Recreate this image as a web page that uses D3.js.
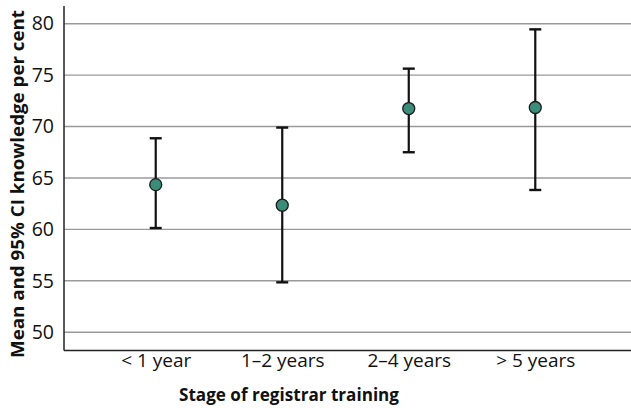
<!DOCTYPE html>
<html><head><meta charset="utf-8">
<script src="https://cdn.jsdelivr.net/npm/d3@7"></script>
<style>body{margin:0;background:#fff}svg{display:block}text{font-family:"Open Sans",sans-serif}</style>
</head><body><svg id="c" width="631" height="408"></svg>
<script>
const categories = ["< 1 year", "1\u20132 years", "2\u20134 years", "> 5 years"];
const means = [64.35, 62.35, 71.75, 71.85];
const lower = [60.13, 54.85, 67.5, 63.83];
const upper = [68.86, 69.9, 75.63, 79.45];
const yTicks = [50, 55, 60, 65, 70, 75, 80];

const svg = d3.select("#c");
const L = 64, R = 631, T = 6, B = 350.5;
const x = d3.scalePoint().domain(categories).range([L, 627]).padding(0.725);
const y = d3.scaleLinear().domain([50, 80]).range([332.2, 23.7]);

// gridlines
svg.append("g").selectAll("line").data(yTicks).join("line")
  .attr("x1", L).attr("x2", R).attr("y1", d => y(d)).attr("y2", d => y(d))
  .attr("stroke", "#9a9a9a").attr("stroke-width", 1.4);

// y axis
const ya = svg.append("g").attr("transform", `translate(${L},0)`)
  .call(d3.axisLeft(y).tickValues(yTicks).tickSize(0).tickPadding(10));
ya.select(".domain").remove();
ya.selectAll("text").attr("font-size", 19.5).attr("fill", "#111").attr("font-family", '"Open Sans",sans-serif');

// axis lines
svg.append("line").attr("x1", L).attr("x2", L).attr("y1", T).attr("y2", B).attr("stroke", "#222").attr("stroke-width", 1.5);
svg.append("line").attr("x1", L).attr("x2", R).attr("y1", B).attr("y2", B).attr("stroke", "#222").attr("stroke-width", 1.5);

// x axis labels
const xa = svg.append("g").attr("transform", `translate(0,${B})`)
  .call(d3.axisBottom(x).tickSize(0).tickPadding(3));
xa.select(".domain").remove();
xa.selectAll("text").attr("font-size", 19).attr("fill", "#111").attr("font-family", '"Open Sans",sans-serif');

// error bars
const g = svg.append("g");
const idx = d3.range(categories.length);
g.selectAll(".v").data(idx).join("line")
  .attr("x1", i => x(categories[i])).attr("x2", i => x(categories[i]))
  .attr("y1", i => y(lower[i])).attr("y2", i => y(upper[i]))
  .attr("stroke", "#111").attr("stroke-width", 2.2);
[lower, upper].forEach(arr => {
  g.selectAll(null).data(idx).enter().append("line")
    .attr("x1", i => x(categories[i]) - 6).attr("x2", i => x(categories[i]) + 6)
    .attr("y1", i => y(arr[i])).attr("y2", i => y(arr[i]))
    .attr("stroke", "#111").attr("stroke-width", 2.4);
});
g.selectAll("circle").data(idx).join("circle")
  .attr("cx", i => x(categories[i])).attr("cy", i => y(means[i])).attr("r", 6)
  .attr("fill", "#3b8c79").attr("stroke", "#1a1a1a").attr("stroke-width", 1.3);

// titles
svg.append("text").attr("x", 289).attr("y", 401).attr("text-anchor", "middle")
  .attr("font-size", 18.5).attr("font-weight", "bold").attr("fill", "#111")
  .attr("textLength", 220).attr("lengthAdjust", "spacingAndGlyphs")
  .text("Stage of registrar training");
svg.append("text").attr("transform", "translate(24,184) rotate(-90)").attr("text-anchor", "middle")
  .attr("font-size", 18.5).attr("font-weight", "bold").attr("fill", "#111")
  .attr("textLength", 348).attr("lengthAdjust", "spacingAndGlyphs")
  .text("Mean and 95% CI knowledge per cent");
</script></body></html>
